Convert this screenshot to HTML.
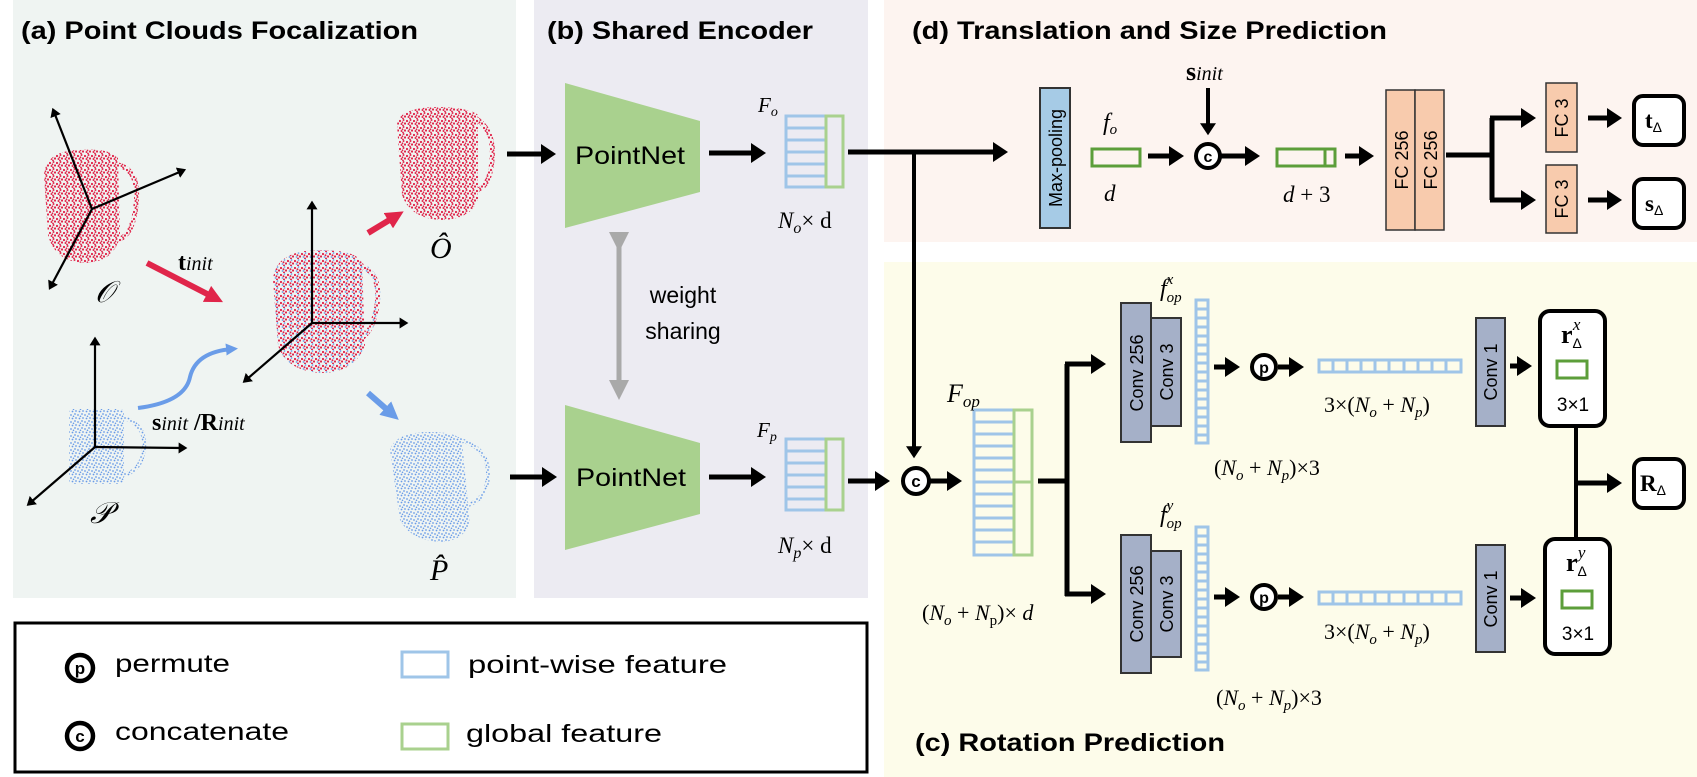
<!DOCTYPE html>
<html><head><meta charset="utf-8">
<style>
html,body{margin:0;padding:0;background:#fff;}
svg{display:block;}
.t{font-family:"Liberation Sans",Arial,sans-serif;font-weight:bold;}
.s{font-family:"Liberation Sans",Arial,sans-serif;}
.m{font-family:"Liberation Serif",serif;font-style:italic;}
.mb{font-family:"Liberation Serif",serif;font-weight:bold;}
</style></head>
<body>
<svg width="1697" height="777" viewBox="0 0 1697 777" xmlns="http://www.w3.org/2000/svg">
<defs>
<marker id="ah" markerWidth="4" markerHeight="4" refX="2.2" refY="2" orient="auto" markerUnits="strokeWidth">
<path d="M0,0 L3,2 L0,4 z" fill="#000"/></marker>
<marker id="ahk" markerWidth="5" markerHeight="5" refX="2" refY="2.5" orient="auto" markerUnits="strokeWidth">
<path d="M0,0 L4,2.5 L0,5 z" fill="#000"/></marker>
<marker id="ahr" markerWidth="3" markerHeight="3" refX="1.5" refY="1.5" orient="auto" markerUnits="strokeWidth">
<path d="M0,0 L3,1.5 L0,3 z" fill="#e0254a"/></marker>
<marker id="ahb" markerWidth="3" markerHeight="3" refX="1.5" refY="1.5" orient="auto" markerUnits="strokeWidth">
<path d="M0,0 L3,1.5 L0,3 z" fill="#6a9ce8"/></marker>
<marker id="ahg" markerWidth="4" markerHeight="4" refX="2" refY="2" orient="auto" markerUnits="strokeWidth">
<path d="M0,0 L4,2 L0,4 z" fill="#a9a9a9"/></marker>
<pattern id="pr" width="7" height="7" patternUnits="userSpaceOnUse">
<circle cx="1" cy="2" r="1.1" fill="#e0254a"/><circle cx="4.5" cy="1" r="1" fill="#e0254a"/><circle cx="6" cy="4.5" r="1.1" fill="#e0254a"/><circle cx="2.5" cy="5" r="1" fill="#e0254a"/><circle cx="4" cy="6.5" r="0.9" fill="#e0254a"/><circle cx="3.5" cy="3.3" r="0.9" fill="#e0254a"/></pattern>
<pattern id="pb" width="7" height="7" patternUnits="userSpaceOnUse">
<circle cx="1" cy="2" r="0.9" fill="#6a9ce8"/><circle cx="5" cy="1" r="0.9" fill="#6a9ce8"/><circle cx="6" cy="5" r="0.9" fill="#6a9ce8"/><circle cx="2.5" cy="5.5" r="0.9" fill="#6a9ce8"/><circle cx="3.5" cy="3.3" r="0.8" fill="#6a9ce8"/></pattern>
<pattern id="pm" width="7" height="7" patternUnits="userSpaceOnUse">
<circle cx="1" cy="2" r="1.1" fill="#e0254a"/><circle cx="4.5" cy="1" r="0.9" fill="#6a9ce8"/><circle cx="6" cy="4.5" r="1.1" fill="#e0254a"/><circle cx="2.5" cy="5" r="0.9" fill="#6a9ce8"/><circle cx="4" cy="6.5" r="1" fill="#e0254a"/><circle cx="3.5" cy="3.3" r="1" fill="#e0254a"/></pattern>
</defs>

<rect x="13" y="0" width="503" height="598" fill="#eff4f2"/>
<rect x="534" y="0" width="334" height="598" fill="#ecebf2"/>
<rect x="884" y="0" width="813" height="242" fill="#fdf4f0"/>
<rect x="884" y="262" width="813" height="515" fill="#fdfcea"/>
<rect x="15" y="623" width="852" height="149" fill="#fff" stroke="#000" stroke-width="3"/>

<text class="t" x="21" y="39" font-size="25" textLength="397" lengthAdjust="spacingAndGlyphs">(a) Point Clouds Focalization</text>
<text class="t" x="547" y="39" font-size="25" textLength="266" lengthAdjust="spacingAndGlyphs">(b) Shared Encoder</text>
<text class="t" x="912" y="39" font-size="25" textLength="475" lengthAdjust="spacingAndGlyphs">(d) Translation and Size Prediction</text>
<text class="t" x="915" y="751" font-size="25" textLength="310" lengthAdjust="spacingAndGlyphs">(c) Rotation Prediction</text>

<g>
<path d="M44,175 Q46,150 80,150 Q110,148 118,158 L120,235 Q115,262 85,263 Q55,262 48,235 Z" fill="url(#pr)"/>
<path d="M118,165 Q140,170 136,205 Q133,235 118,240" fill="none" stroke="url(#pr)" stroke-width="5"/>
<path d="M273,280 Q275,250 320,250 Q355,250 362,262 L365,345 Q355,373 320,373 Q285,370 278,345 Z" fill="url(#pm)"/>
<path d="M360,265 Q385,275 375,315 Q370,335 358,340" fill="none" stroke="url(#pm)" stroke-width="5"/>
<path d="M397,125 Q398,107 440,107 Q470,108 478,115 L478,200 Q470,220 440,220 Q410,218 402,195 Z" fill="url(#pr)"/>
<path d="M475,118 Q495,130 492,160 Q490,185 478,190" fill="none" stroke="url(#pr)" stroke-width="5"/>
<rect x="69" y="409" width="55" height="75" rx="4" fill="url(#pb)"/>
<path d="M124,418 Q146,425 144,448 Q142,470 124,475" fill="none" stroke="url(#pb)" stroke-width="4"/>
<path d="M390,450 Q395,432 430,432 Q455,432 462,440 L470,525 Q460,542 440,542 Q410,540 400,520 Z" fill="url(#pb)"/>
<path d="M460,440 Q490,448 488,478 Q485,500 468,505" fill="none" stroke="url(#pb)" stroke-width="4"/>
</g>

<g stroke="#000" stroke-width="2.2" fill="none" marker-end="url(#ahk)">
<line x1="92" y1="209" x2="54" y2="112"/>
<line x1="92" y1="209" x2="182" y2="171"/>
<line x1="92" y1="209" x2="51" y2="286"/>
<line x1="312" y1="323" x2="312" y2="205"/>
<line x1="312" y1="323" x2="404" y2="323"/>
<line x1="312" y1="323" x2="246" y2="380"/>
<line x1="95" y1="447" x2="95" y2="341"/>
<line x1="95" y1="447" x2="183" y2="448"/>
<line x1="95" y1="447" x2="30" y2="503"/>
</g>
<line x1="147" y1="263" x2="215" y2="298" stroke="#e0254a" stroke-width="6" marker-end="url(#ahr)"/>
<line x1="368" y1="233" x2="396" y2="216" stroke="#e0254a" stroke-width="6" marker-end="url(#ahr)"/>
<line x1="368" y1="393" x2="392" y2="414" stroke="#6a9ce8" stroke-width="6" marker-end="url(#ahb)"/>
<path d="M138,408 Q185,402 190,377 Q196,352 232,349" fill="none" stroke="#6a9ce8" stroke-width="4" marker-end="url(#ahb)"/>

<text class="m" x="95" y="302" font-size="30">𝒪</text>
<text class="m" x="430" y="258" font-size="30">Ô</text>
<text class="m" x="90" y="523" font-size="30">𝒫</text>
<text class="m" x="430" y="580" font-size="30">P̂</text>
<text x="178" y="270"><tspan class="mb" font-size="24">t</tspan><tspan class="m" font-size="20">init</tspan></text>
<text x="152" y="430"><tspan class="mb" font-size="24">s</tspan><tspan class="m" font-size="20">init</tspan><tspan class="mb" font-size="24"> /R</tspan><tspan class="m" font-size="20">init</tspan></text>

<polygon points="565,83 700,121 700,192 565,228" fill="#a9d18e"/>
<polygon points="565,405 700,443 700,514 565,550" fill="#a9d18e"/>
<text class="s" x="630" y="164" font-size="25" text-anchor="middle" textLength="110" lengthAdjust="spacingAndGlyphs">PointNet</text>
<text class="s" x="631" y="486" font-size="25" text-anchor="middle" textLength="110" lengthAdjust="spacingAndGlyphs">PointNet</text>
<g stroke="#000" stroke-width="5" marker-end="url(#ah)">
<line x1="507" y1="154" x2="552" y2="154"/>
<line x1="510" y1="477" x2="553" y2="477"/>
<line x1="709" y1="153" x2="762" y2="153"/>
<line x1="709" y1="477" x2="762" y2="477"/>
</g>
<line x1="619" y1="242" x2="619" y2="390" stroke="#a9a9a9" stroke-width="5" marker-start="url(#ahg)" marker-end="url(#ahg)"/>
<text class="s" x="683" y="303" font-size="23" text-anchor="middle">weight</text>
<text class="s" x="683" y="339" font-size="23" text-anchor="middle">sharing</text>

<g fill="none" stroke-width="3">
<g stroke="#9fc5e8">
<rect x="786" y="116" width="40" height="71"/>
<line x1="786" y1="128" x2="826" y2="128"/><line x1="786" y1="140" x2="826" y2="140"/><line x1="786" y1="152" x2="826" y2="152"/><line x1="786" y1="164" x2="826" y2="164"/><line x1="786" y1="176" x2="826" y2="176"/>
<rect x="786" y="439" width="40" height="71"/>
<line x1="786" y1="451" x2="826" y2="451"/><line x1="786" y1="463" x2="826" y2="463"/><line x1="786" y1="475" x2="826" y2="475"/><line x1="786" y1="487" x2="826" y2="487"/><line x1="786" y1="499" x2="826" y2="499"/>
</g>
<g stroke="#a9d18e"><rect x="826" y="116" width="17" height="71"/><rect x="826" y="439" width="17" height="71"/></g>
</g>
<text class="m" x="758" y="112" font-size="21">F<tspan font-size="14" dy="4">o</tspan></text>
<text class="m" x="757" y="437" font-size="21">F<tspan font-size="14" dy="4">p</tspan></text>
<text class="m" x="778" y="228" font-size="23">N<tspan font-size="16" dy="5">o</tspan><tspan dy="-5" font-style="normal">× d</tspan></text>
<text class="m" x="778" y="553" font-size="23">N<tspan font-size="16" dy="5">p</tspan><tspan dy="-5" font-style="normal">× d</tspan></text>

<line x1="848" y1="152" x2="1004" y2="152" stroke="#000" stroke-width="5" marker-end="url(#ah)"/>
<line x1="914" y1="150" x2="914" y2="455" stroke="#000" stroke-width="4" marker-end="url(#ah)"/>
<rect x="1040" y="88" width="30" height="140" fill="#a6cbe6" stroke="#333" stroke-width="2"/>
<text class="s" font-size="18" transform="translate(1062,158) rotate(-90)" text-anchor="middle">Max-pooling</text>
<text class="m" x="1103" y="130" font-size="24">f<tspan font-size="15" dy="4">o</tspan></text>
<rect x="1092" y="149" width="48" height="17" fill="none" stroke="#5c9e3a" stroke-width="3"/>
<text class="m" x="1104" y="201" font-size="23">d</text>
<line x1="1148" y1="156" x2="1180" y2="156" stroke="#000" stroke-width="5" marker-end="url(#ah)"/>
<circle cx="1208" cy="156" r="12" fill="#fff" stroke="#000" stroke-width="4"/>
<text class="s" x="1208" y="162" font-size="16" font-weight="bold" text-anchor="middle">c</text>
<text x="1186" y="80"><tspan class="mb" font-size="26">s</tspan><tspan class="m" font-size="20">init</tspan></text>
<line x1="1208" y1="88" x2="1208" y2="132" stroke="#000" stroke-width="4" marker-end="url(#ah)"/>
<line x1="1221" y1="156" x2="1256" y2="156" stroke="#000" stroke-width="5" marker-end="url(#ah)"/>
<rect x="1277" y="149" width="58" height="17" fill="none" stroke="#5c9e3a" stroke-width="3"/>
<line x1="1325" y1="149" x2="1325" y2="166" stroke="#5c9e3a" stroke-width="3"/>
<text class="m" x="1283" y="202" font-size="23">d<tspan font-style="normal"> + 3</tspan></text>
<line x1="1345" y1="156" x2="1370" y2="156" stroke="#000" stroke-width="5" marker-end="url(#ah)"/>
<rect x="1386" y="90" width="29" height="140" fill="#f8cbad" stroke="#333" stroke-width="1.5"/>
<rect x="1415" y="90" width="29" height="140" fill="#f8cbad" stroke="#333" stroke-width="1.5"/>
<text class="s" font-size="18" transform="translate(1408,160) rotate(-90)" text-anchor="middle">FC 256</text>
<text class="s" font-size="18" transform="translate(1437,160) rotate(-90)" text-anchor="middle">FC 256</text>
<path d="M1446,155 L1492,155" stroke="#000" stroke-width="5"/>
<path d="M1492,118 L1492,200" stroke="#000" stroke-width="5"/>
<line x1="1490" y1="118" x2="1532" y2="118" stroke="#000" stroke-width="5" marker-end="url(#ah)"/>
<line x1="1490" y1="200" x2="1532" y2="200" stroke="#000" stroke-width="5" marker-end="url(#ah)"/>
<rect x="1546" y="83" width="31" height="69" fill="#f8cbad" stroke="#333" stroke-width="1.5"/>
<rect x="1546" y="165" width="31" height="68" fill="#f8cbad" stroke="#333" stroke-width="1.5"/>
<text class="s" font-size="18" transform="translate(1568,118) rotate(-90)" text-anchor="middle">FC 3</text>
<text class="s" font-size="18" transform="translate(1568,199) rotate(-90)" text-anchor="middle">FC 3</text>
<line x1="1588" y1="118" x2="1618" y2="118" stroke="#000" stroke-width="5" marker-end="url(#ah)"/>
<line x1="1588" y1="200" x2="1618" y2="200" stroke="#000" stroke-width="5" marker-end="url(#ah)"/>
<rect x="1634" y="96" width="50" height="49" rx="9" fill="#fff" stroke="#000" stroke-width="4"/>
<rect x="1634" y="179" width="50" height="49" rx="9" fill="#fff" stroke="#000" stroke-width="4"/>
<text x="1645" y="128"><tspan class="mb" font-size="23">t</tspan><tspan class="s" font-size="14" dy="4">Δ</tspan></text>
<text x="1645" y="211"><tspan class="mb" font-size="23">s</tspan><tspan class="s" font-size="14" dy="4">Δ</tspan></text>

<line x1="848" y1="481" x2="886" y2="481" stroke="#000" stroke-width="5" marker-end="url(#ah)"/>
<circle cx="916" cy="481" r="13" fill="#fff" stroke="#000" stroke-width="4"/>
<text class="s" x="916" y="487" font-size="17" font-weight="bold" text-anchor="middle">c</text>
<line x1="930" y1="481" x2="958" y2="481" stroke="#000" stroke-width="5" marker-end="url(#ah)"/>
<g fill="none" stroke-width="3">
<rect x="974" y="410" width="40" height="145" stroke="#9fc5e8"/>
<g stroke="#9fc5e8">
<line x1="974" y1="422" x2="1014" y2="422"/><line x1="974" y1="434" x2="1014" y2="434"/><line x1="974" y1="446" x2="1014" y2="446"/><line x1="974" y1="458" x2="1014" y2="458"/><line x1="974" y1="470" x2="1014" y2="470"/><line x1="974" y1="482" x2="1014" y2="482"/><line x1="974" y1="494" x2="1014" y2="494"/><line x1="974" y1="506" x2="1014" y2="506"/><line x1="974" y1="518" x2="1014" y2="518"/><line x1="974" y1="530" x2="1014" y2="530"/><line x1="974" y1="542" x2="1014" y2="542"/>
</g>
<rect x="1014" y="410" width="18" height="145" stroke="#a9d18e"/>
<line x1="1014" y1="482" x2="1032" y2="482" stroke="#a9d18e"/>
</g>
<text class="m" x="947" y="402" font-size="26">F<tspan font-size="17" dy="5">op</tspan></text>
<text class="m" x="922" y="620" font-size="22"><tspan font-style="normal">(</tspan>N<tspan font-size="15" dy="5">o</tspan><tspan dy="-5" font-style="normal"> + </tspan>N<tspan font-size="15" dy="5" font-style="normal">p</tspan><tspan dy="-5" font-style="normal">)× </tspan>d</text>
<path d="M1038,481 L1067,481 M1067,364 L1067,596" stroke="#000" stroke-width="5" fill="none"/>
<line x1="1065" y1="364" x2="1102" y2="364" stroke="#000" stroke-width="5" marker-end="url(#ah)"/>
<line x1="1065" y1="594" x2="1102" y2="594" stroke="#000" stroke-width="5" marker-end="url(#ah)"/>

<g fill="#a5b0c8" stroke="#333" stroke-width="2">
<rect x="1121" y="303" width="30" height="139"/><rect x="1151" y="318" width="30" height="108"/>
<rect x="1121" y="535" width="30" height="138"/><rect x="1151" y="551" width="30" height="106"/>
<rect x="1476" y="318" width="29" height="108"/><rect x="1476" y="545" width="29" height="107"/>
</g>
<g class="s" font-size="18" text-anchor="middle">
<text transform="translate(1143,373) rotate(-90)">Conv 256</text>
<text transform="translate(1173,372) rotate(-90)">Conv 3</text>
<text transform="translate(1143,604) rotate(-90)">Conv 256</text>
<text transform="translate(1173,604) rotate(-90)">Conv 3</text>
<text transform="translate(1497,372) rotate(-90)">Conv 1</text>
<text transform="translate(1497,599) rotate(-90)">Conv 1</text>
</g>
<g fill="none" stroke="#9fc5e8" stroke-width="3">
<rect x="1196" y="300" width="12" height="143"/>
<path d="M1196,309h12M1196,318h12M1196,327h12M1196,336h12M1196,345h12M1196,354h12M1196,363h12M1196,372h12M1196,381h12M1196,390h12M1196,399h12M1196,408h12M1196,417h12M1196,426h12M1196,435h12"/>
<rect x="1196" y="527" width="12" height="143"/>
<path d="M1196,536h12M1196,545h12M1196,554h12M1196,563h12M1196,572h12M1196,581h12M1196,590h12M1196,599h12M1196,608h12M1196,617h12M1196,626h12M1196,635h12M1196,644h12M1196,653h12M1196,662h12"/>
<rect x="1319" y="360" width="142" height="12"/>
<path d="M1333,360v12M1347,360v12M1361,360v12M1375,360v12M1389,360v12M1404,360v12M1418,360v12M1432,360v12M1446,360v12"/>
<rect x="1319" y="592" width="142" height="12"/>
<path d="M1333,592v12M1347,592v12M1361,592v12M1375,592v12M1389,592v12M1404,592v12M1418,592v12M1432,592v12M1446,592v12"/>
</g>
<text class="m" x="1160" y="296" font-size="24">f<tspan font-size="15" dy="6">op</tspan><tspan font-size="15" dx="-15" dy="-18">x</tspan></text>
<text class="m" x="1160" y="522" font-size="24">f<tspan font-size="15" dy="6">op</tspan><tspan font-size="15" dx="-15" dy="-18">y</tspan></text>
<text class="m" x="1214" y="475" font-size="22"><tspan font-style="normal">(</tspan>N<tspan font-size="15" dy="5">o</tspan><tspan dy="-5" font-style="normal"> + </tspan>N<tspan font-size="15" dy="5">p</tspan><tspan dy="-5" font-style="normal">)×3</tspan></text>
<text class="m" x="1216" y="705" font-size="22"><tspan font-style="normal">(</tspan>N<tspan font-size="15" dy="5">o</tspan><tspan dy="-5" font-style="normal"> + </tspan>N<tspan font-size="15" dy="5">p</tspan><tspan dy="-5" font-style="normal">)×3</tspan></text>
<text class="m" x="1324" y="412" font-size="22"><tspan font-style="normal">3×(</tspan>N<tspan font-size="15" dy="5">o</tspan><tspan dy="-5" font-style="normal"> + </tspan>N<tspan font-size="15" dy="5">p</tspan><tspan dy="-5" font-style="normal">)</tspan></text>
<text class="m" x="1324" y="639" font-size="22"><tspan font-style="normal">3×(</tspan>N<tspan font-size="15" dy="5">o</tspan><tspan dy="-5" font-style="normal"> + </tspan>N<tspan font-size="15" dy="5">p</tspan><tspan dy="-5" font-style="normal">)</tspan></text>

<g stroke="#000" stroke-width="5" marker-end="url(#ah)">
<line x1="1214" y1="367" x2="1236" y2="367"/>
<line x1="1278" y1="367" x2="1300" y2="367"/>
<line x1="1214" y1="597" x2="1236" y2="597"/>
<line x1="1278" y1="597" x2="1300" y2="597"/>
<line x1="1510" y1="366" x2="1528" y2="366"/>
<line x1="1510" y1="598" x2="1532" y2="598"/>
<line x1="1577" y1="483" x2="1618" y2="483"/>
</g>
<circle cx="1264" cy="367" r="12" fill="#fff" stroke="#000" stroke-width="4"/>
<text class="s" x="1264" y="373" font-size="16" font-weight="bold" text-anchor="middle">p</text>
<circle cx="1264" cy="597" r="12" fill="#fff" stroke="#000" stroke-width="4"/>
<text class="s" x="1264" y="603" font-size="16" font-weight="bold" text-anchor="middle">p</text>

<line x1="1576" y1="426" x2="1576" y2="540" stroke="#000" stroke-width="4"/>
<rect x="1540" y="311" width="65" height="115" rx="10" fill="#fff" stroke="#000" stroke-width="4"/>
<rect x="1545" y="539" width="65" height="115" rx="10" fill="#fff" stroke="#000" stroke-width="4"/>
<text x="1561" y="343"><tspan class="mb" font-size="26">r</tspan><tspan class="s" font-size="14" dy="5">Δ</tspan><tspan class="m" font-size="17" dx="-9" dy="-18">x</tspan></text>
<text x="1566" y="571"><tspan class="mb" font-size="26">r</tspan><tspan class="s" font-size="14" dy="5">Δ</tspan><tspan class="m" font-size="17" dx="-9" dy="-18">y</tspan></text>
<rect x="1557" y="361" width="30" height="17" fill="none" stroke="#5c9e3a" stroke-width="3"/>
<rect x="1562" y="591" width="30" height="17" fill="none" stroke="#5c9e3a" stroke-width="3"/>
<text class="s" x="1573" y="411" font-size="19" text-anchor="middle">3×1</text>
<text class="s" x="1578" y="640" font-size="19" text-anchor="middle">3×1</text>
<rect x="1634" y="459" width="50" height="49" rx="9" fill="#fff" stroke="#000" stroke-width="4"/>
<text x="1640" y="491"><tspan class="mb" font-size="23">R</tspan><tspan class="s" font-size="14" dy="4">Δ</tspan></text>

<circle cx="80" cy="668" r="13" fill="#fff" stroke="#000" stroke-width="4.5"/>
<text class="s" x="80" y="674" font-size="17" font-weight="bold" text-anchor="middle">p</text>
<circle cx="80" cy="736" r="13" fill="#fff" stroke="#000" stroke-width="4.5"/>
<text class="s" x="80" y="742" font-size="17" font-weight="bold" text-anchor="middle">c</text>
<text class="s" x="115" y="672" font-size="25" textLength="115" lengthAdjust="spacingAndGlyphs">permute</text>
<text class="s" x="115" y="740" font-size="25" textLength="174" lengthAdjust="spacingAndGlyphs">concatenate</text>
<rect x="402" y="652" width="46" height="25" fill="none" stroke="#9fc5e8" stroke-width="3"/>
<rect x="402" y="724" width="46" height="25" fill="none" stroke="#a9d18e" stroke-width="3"/>
<text class="s" x="468" y="673" font-size="25" textLength="259" lengthAdjust="spacingAndGlyphs">point-wise feature</text>
<text class="s" x="466" y="742" font-size="25" textLength="196" lengthAdjust="spacingAndGlyphs">global feature</text>
</svg>
</body></html>
